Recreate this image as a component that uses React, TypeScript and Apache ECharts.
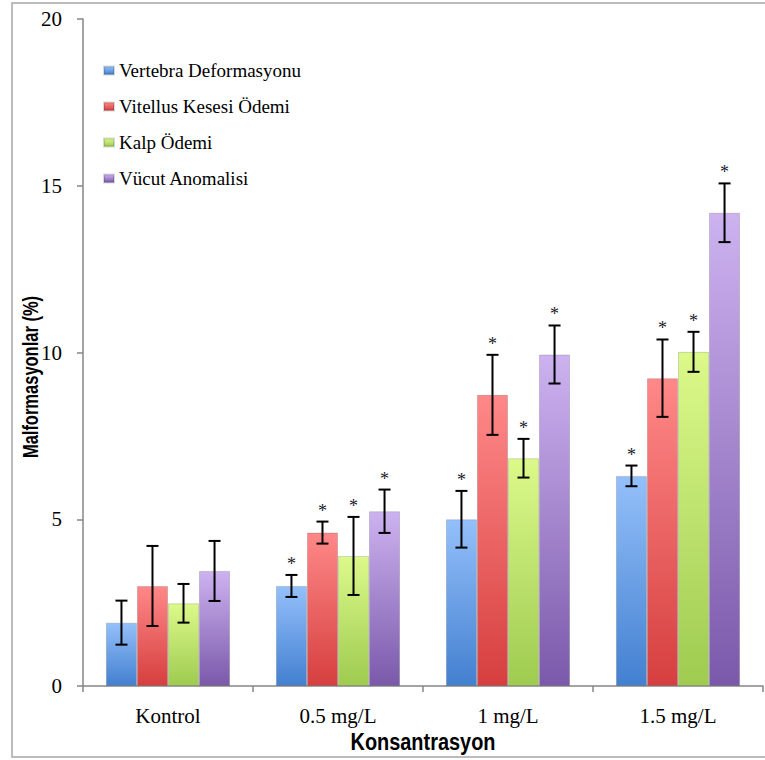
import React, { useEffect, useRef } from "react";
import * as echarts from "echarts";

const categories = ["Kontrol", "0.5 mg/L", "1 mg/L", "1.5 mg/L"];
const seriesNames = ["Vertebra Deformasyonu", "Vitellus Kesesi Ödemi", "Kalp Ödemi", "Vücut Anomalisi"];
const vertebra = [1.9, 3.0, 5.0, 6.3];
const vitellus = [3.0, 4.6, 8.73, 9.23];
const kalp = [2.48, 3.9, 6.83, 10.02];
const vucut = [3.45, 5.24, 9.94, 14.19];
const vertebraErr = [0.66, 0.33, 0.85, 0.31];
const vitellusErr = [1.2, 0.33, 1.2, 1.16];
const kalpErr = [0.58, 1.17, 0.58, 0.6];
const vucutErr = [0.9, 0.65, 0.87, 0.88];
const significant = [false, true, true, true];
const yTicks = { min: 0, max: 20, interval: 5 };

const values = [vertebra, vitellus, kalp, vucut];
const errors = [vertebraErr, vitellusErr, kalpErr, vucutErr];
const gradients = [
  ["#94c0fa", "#4380d0"],
  ["#ff8888", "#d63f3f"],
  ["#dcf98a", "#9ecb50"],
  ["#cdb2f0", "#7a59aa"],
];
const CAT_GAP = 0.27;

export default function App() {
  const ref = useRef<HTMLDivElement>(null);
  useEffect(() => {
    if (!ref.current) return;
    const chart = echarts.init(ref.current, undefined, { renderer: "svg" });
    const barSeries = values.map((vals, i) => ({
      name: seriesNames[i],
      type: "bar",
      data: vals,
      barGap: "0%",
      barCategoryGap: CAT_GAP * 100 + "%",
      itemStyle: {
        color: new echarts.graphic.LinearGradient(0, 0, 0, 1, [
          { offset: 0, color: gradients[i][0] },
          { offset: 1, color: gradients[i][1] },
        ]),
        borderColor: "rgba(0,0,0,0.15)",
        borderWidth: 1,
      },
    }));
    const errSeries = values.map((vals, i) => ({
      name: seriesNames[i] + " err",
      type: "custom",
      z: 10,
      clip: false,
      encode: { x: 0, y: 1 },
      data: vals.map((v, c) => [c, v, errors[i][c], significant[c] ? 1 : 0, i]),
      renderItem: (params: any, api: any) => {
        const cat = api.value(0);
        const v = api.value(1);
        const e = api.value(2);
        const star = api.value(3);
        const si = api.value(4);
        const c = api.coord([cat, v]);
        const top = api.coord([cat, v + e]);
        const bot = api.coord([cat, v - e]);
        const band = api.size([1, 0])[0];
        const barW = (band * (1 - CAT_GAP)) / 4;
        const x = c[0] + (si - 1.5) * barW;
        const cap = 6;
        const st = { stroke: "#000", lineWidth: 2 };
        const children: any[] = [
          { type: "line", shape: { x1: x, y1: top[1], x2: x, y2: bot[1] }, style: st },
          { type: "line", shape: { x1: x - cap, y1: top[1], x2: x + cap, y2: top[1] }, style: st },
          { type: "line", shape: { x1: x - cap, y1: bot[1], x2: x + cap, y2: bot[1] }, style: st },
        ];
        if (star) {
          children.push({
            type: "text",
            style: {
              text: "*",
              x: x,
              y: top[1] - 11,
              font: "18px 'Liberation Serif'",
              fill: "#1a1a2a",
              align: "center",
              verticalAlign: "middle",
            },
          });
        }
        return { type: "group", children };
      },
    }));
    chart.setOption({
      animation: false,
      backgroundColor: "#ffffff",
      grid: { left: 83, right: 2, top: 19, bottom: 74 },
      legend: {
        data: seriesNames,
        orient: "vertical",
        left: 98,
        top: 56,
        itemWidth: 10,
        itemHeight: 8,
        itemGap: 17,
        icon: "rect",
        textStyle: { fontFamily: "'Liberation Serif'", fontSize: 19, color: "#000", lineHeight: 19 },
      },
      xAxis: {
        type: "category",
        data: categories,
        axisLine: { lineStyle: { color: "#868686", width: 1.5 } },
        axisTick: { show: true, interval: 0, length: 6, lineStyle: { color: "#868686", width: 1.5 } },
        axisLabel: { fontFamily: "'Liberation Serif'", fontSize: 21, color: "#000", margin: 19 },
      },
      yAxis: {
        type: "value",
        min: yTicks.min,
        max: yTicks.max,
        interval: yTicks.interval,
        axisLine: { show: true, lineStyle: { color: "#868686", width: 1.5 } },
        axisTick: { show: true, length: 6, lineStyle: { color: "#868686", width: 1.5 } },
        splitLine: { show: false },
        axisLabel: { fontFamily: "'Liberation Serif'", fontSize: 21, color: "#000", margin: 21 },
      },
      graphic: [
        {
          type: "rect",
          shape: { x: 12, y: 3, width: 770, height: 754 },
          style: { fill: "none", stroke: "#a6a6a6", lineWidth: 1.5 },
          silent: true,
          z: -10,
        },
        {
          type: "text",
          x: 423,
          y: 742,
          scaleX: 0.83,
          style: {
            text: "Konsantrasyon",
            font: "bold 24px 'Liberation Sans'",
            fill: "#000",
            align: "center",
            verticalAlign: "middle",
          },
        },
        {
          type: "text",
          x: 30,
          y: 377,
          rotation: Math.PI / 2,
          scaleX: 0.75,
          style: {
            text: "Malformasyonlar (%)",
            font: "bold 22px 'Liberation Sans'",
            fill: "#000",
            align: "center",
            verticalAlign: "middle",
          },
        },
      ],
      series: [...barSeries, ...errSeries],
    });
    return () => chart.dispose();
  }, []);
  return <div ref={ref} style={{ position: "absolute", left: 0, top: 0, width: 765, height: 760 }} />;
}
